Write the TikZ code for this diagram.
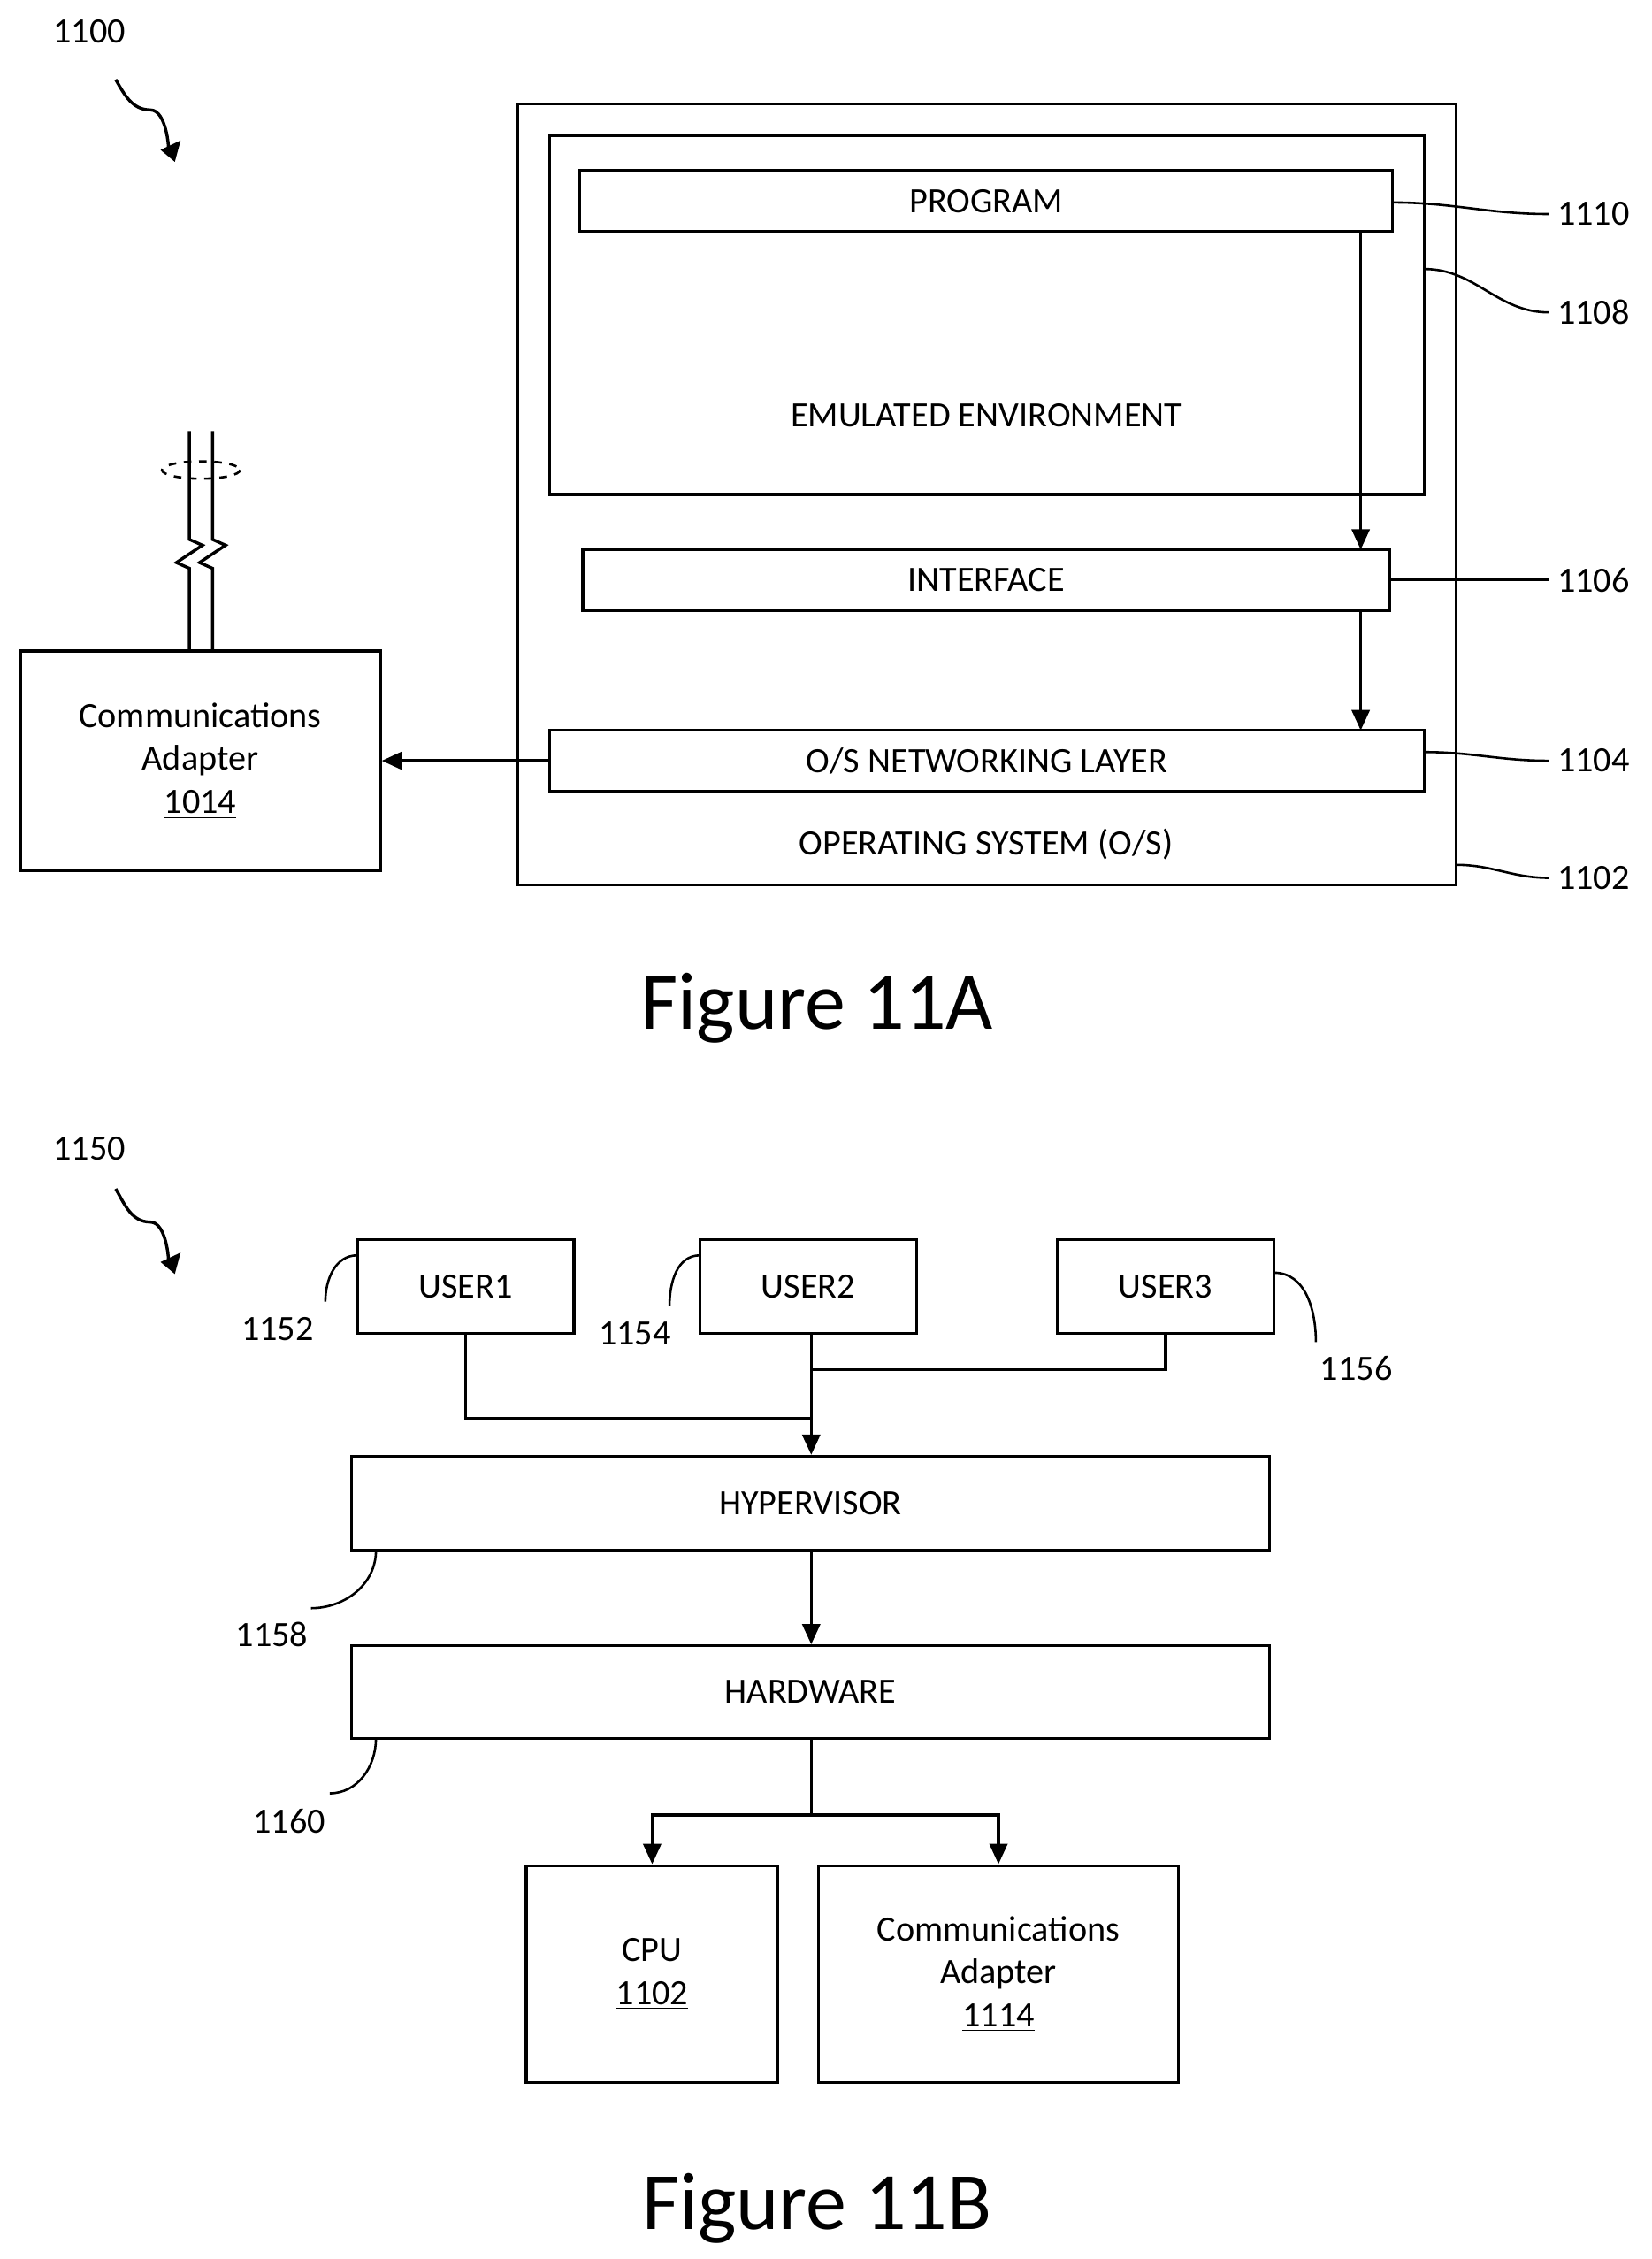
\documentclass[tikz,border=0pt]{standalone}
\usepackage{fontspec}
\setmainfont{Carlito}
\usetikzlibrary{arrows.meta,positioning}
\tikzset{
  box/.style={draw,line width=1.2pt,inner sep=0pt,font=\fontsize{14}{17}\selectfont,align=center},
  conn/.style={line width=1.2pt},
  arr/.style={conn,-{Triangle[length=8pt,width=7pt]}},
  lead/.style={line width=0.9pt},
  num/.style={font=\fontsize{14}{17}\selectfont},
  fig/.style={font=\fontsize{32}{36}\selectfont}
}
\begin{document}
\begin{tikzpicture}[x=0.02cm,y=-0.02cm]
\useasboundingbox (0,0) rectangle (1142,1562);
% Figure 11A
\node[num] (n1100) at (62,22) {1100};
\draw[arr] (80,55) to[out=-60,in=180] (104,76) to[out=0,in=-130] (125,97);
\draw[box] (358,72) rectangle (1007,612);
\node[num] (os) at (682,584) {OPERATING SYSTEM (O/S)};
\draw[box] (380,94) rectangle (985,342);
\node[num] (emu) at (682,287) {EMULATED ENVIRONMENT};
\node[box,minimum width=11.24cm,minimum height=0.84cm] (prog) at (682,139) {PROGRAM};
\node[box,minimum width=11.16cm,minimum height=0.84cm] (intf) at (682,401) {INTERFACE};
\node[box,minimum width=12.1cm,minimum height=0.84cm] (net) at (682.5,526) {O/S NETWORKING LAYER};
\node[box,minimum width=4.98cm,minimum height=3.04cm] (comm) at (138.5,526) {Communications\\Adapter\\\underline{1014}};
\draw[arr] (941,160) -- (941,380);
\draw[arr] (941,422) -- (941,505);
\draw[arr] (net.west) -- (comm.east);
% antenna
\draw[conn] (131,450) -- (131,393) -- (122,389) -- (140,377) -- (131,373) -- (131,298);
\draw[conn] (147,450) -- (147,393) -- (138,389) -- (156,377) -- (147,373) -- (147,298);
\draw[lead,dashed] (139,325) ellipse (27 and 6);
% reference numerals
\foreach \n/\y/\x/\s in {1110/148/963/140,1108/216/985/186,1106/401/961/401,1104/526/985/520,1102/607/1007/598}{
  \node[num] (l\n) at (1102,\y) {\n};
  \draw[lead] (\x,\s) to[out=0,in=180] (l\n.west);
}
\node[fig] (figA) at (565,697) {Figure 11A};
% Figure 11B
\node[num] (n1150) at (62,794) {1150};
\draw[arr] (80,822) to[out=-60,in=180] (104,845) to[out=0,in=-130] (125,866);
\node[box,minimum width=3cm,minimum height=1.3cm] (u1) at (322,889.5) {USER1};
\node[box,minimum width=3cm,minimum height=1.3cm] (u2) at (559,889.5) {USER2};
\node[box,minimum width=3cm,minimum height=1.3cm] (u3) at (806,889.5) {USER3};
\node[box,minimum width=12.7cm,minimum height=1.3cm] (hyp) at (560.5,1039.5) {HYPERVISOR};
\node[box,minimum width=12.7cm,minimum height=1.28cm] (hw) at (560.5,1170) {HARDWARE};
\node[box,minimum width=3.48cm,minimum height=3cm] (cpu) at (451,1365) {CPU\\\underline{1102}};
\node[box,minimum width=4.98cm,minimum height=3cm] (comm2) at (690.5,1365) {Communications\\Adapter\\\underline{1114}};
\draw[conn] (u1.south) |- (561,981);
\draw[conn] (u3.south) |- (561,947);
\draw[arr] (561,922) -- (hyp.north -| 561,0);
\draw[arr] (hyp.south -| 561,0) -- (hw.north -| 561,0);
\draw[conn] (hw.south -| 561,0) -- (561,1255);
\draw[arr] (561,1255) -| (cpu.north);
\draw[arr] (561,1255) -| (comm2.north);
\node[num] (l1152) at (192,919) {1152};
\node[num] (l1154) at (439,922) {1154};
\node[num] (l1156) at (938,946) {1156};
\node[num] (l1158) at (188,1130) {1158};
\node[num] (l1160) at (200,1259) {1160};
\draw[lead] (247,868) to[out=180,in=90] (225,900);
\draw[lead] (484,868) to[out=180,in=90] (463,903);
\draw[lead] (881,880) to[out=0,in=90] (910,928);
\draw[lead] (260,1072) to[out=-90,in=0] (215,1112);
\draw[lead] (260,1202) to[out=-90,in=0] (228,1240);
\node[fig] (figB) at (565,1527) {Figure 11B};
\end{tikzpicture}
\end{document}
